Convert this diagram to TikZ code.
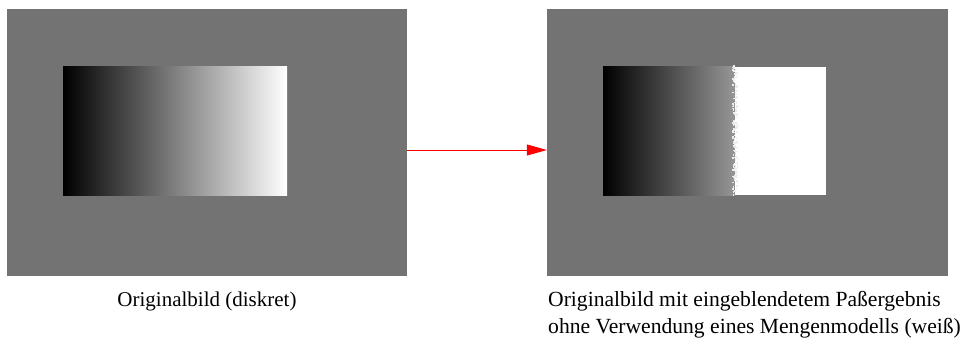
\documentclass[tikz,border=0pt]{standalone}
\usepackage{fontspec}
\setmainfont{Liberation Serif}
\usepackage{tikz}
\usetikzlibrary{arrows.meta}
\definecolor{bildgrau}{gray}{0.45}

\begin{document}
\begin{tikzpicture}
    [
        x=1pt, y=1pt,
        bild style/.style={fill=bildgrau, inner sep=0pt, minimum width=400pt, minimum height=267pt},
        text style/.style={font=\fontsize{21}{26}\selectfont, inner sep=0pt, anchor=base}
    ]
    \useasboundingbox (0,0) rectangle (964,338);
    \node[bild style] (orig) at (207,195.5) {};
    \node[bild style, minimum width=401pt] (pass) at (747.5,195.5) {};
    \shade[left color=black, right color=white] (63,143) rectangle (287,271);
    \shade[left color=black, right color=white!59!black] (603,143) rectangle (735,271);
    \fill[white] (735,143) rectangle (826,271);
    % ausgefranster Rand
    \pgfmathsetseed{42}
    \foreach \i in {1,...,170}
        \fill[white!85!gray] ({732+5*rnd},{142+130*rnd}) rectangle ++(1.5,1.5);
    \draw[red, line width=0.8pt, -{Triangle[length=20pt,width=11pt]}] ([yshift=-7.5pt]orig.east) -- ([yshift=-7.5pt]pass.west);
    \node[text style] (origtext) at (207,32) {Originalbild (diskret)};
    \node[text style, font=\fontsize{21.6}{26}\selectfont, anchor=base west] (passtext1) at (548,32) {Originalbild mit eingeblendetem Paßergebnis};
    \node[text style, font=\fontsize{21.6}{26}\selectfont, anchor=base west] (passtext2) at (548,5) {ohne Verwendung eines Mengenmodells (weiß)};
\end{tikzpicture}
\end{document}
